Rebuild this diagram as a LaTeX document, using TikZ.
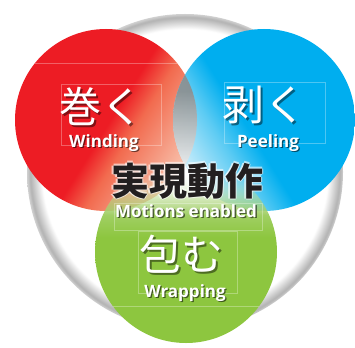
\documentclass[tikz,border=0pt]{standalone}
\usepackage{fontspec}
\setmainfont{Open Sans}
\setsansfont{Open Sans}
\newfontfamily\cjk{Noto Sans CJK JP}
\usetikzlibrary{fadings}
\definecolor{cred}{HTML}{ED1C24}
\definecolor{csalmon}{HTML}{F26B4F}
\definecolor{clight}{HTML}{F8C3AE}
\definecolor{cblue}{HTML}{00AEEF}
\definecolor{cblueM}{HTML}{5CCBF3}
\definecolor{cblueL}{HTML}{DDF3FC}
\definecolor{cgreen}{HTML}{8DC63F}
\definecolor{cgreenM}{HTML}{A9D374}
\definecolor{cgreenL}{HTML}{E3F1D2}
\definecolor{clens}{HTML}{8E8E8E}
\definecolor{cink}{HTML}{231F20}
\pgfdeclareradialshading{ringsh}{\pgfpoint{0bp}{0bp}}{color(0bp)=(white); color(22.6bp)=(white); color(24.5bp)=(black!30); color(25bp)=(black!18); color(50bp)=(black!18)}
\pgfdeclareverticalshading{redsh}{100bp}{color(0bp)=(cred); color(51bp)=(cred); color(58bp)=(csalmon); color(75bp)=(clight); color(100bp)=(clight)}
\pgfdeclareverticalshading{bluesh}{100bp}{color(0bp)=(cblue); color(55bp)=(cblue); color(63bp)=(cblueM); color(77bp)=(cblueL); color(100bp)=(cblueL)}
\pgfdeclareverticalshading{greensh}{100bp}{color(0bp)=(cgreen); color(54bp)=(cgreen); color(63bp)=(cgreenM); color(72bp)=(cgreenL); color(100bp)=(cgreenL)}
\pgfdeclareverticalshading{lenssh}{100bp}{color(0bp)=(white); color(33bp)=(white); color(58bp)=(clens); color(100bp)=(clens)}
\pgfdeclareverticalshading{gfadesh}{100bp}{color(0bp)=(white); color(60bp)=(white); color(71bp)=(black); color(100bp)=(black)}
\pgfdeclarefading{gfade}{\pgfuseshading{gfadesh}}
\tikzset{
  jp/.style={font=\cjk\fontsize{42}{42}\selectfont, text=white, inner sep=0pt},
  jpshadow/.style={jp, text=black, opacity=0.45},
  en/.style={font=\sffamily\bfseries\fontsize{17}{17}\selectfont, text=white, inner sep=0pt, anchor=base},
  enshadow/.style={en, text=black, opacity=0.55},
  big/.style={font=\cjk\bfseries\fontsize{38}{38}\selectfont, text=cink, inner sep=0pt},
  glowtxt/.style={big, text=white, opacity=0.6},
  frame/.style={draw=white, draw opacity=0.3, line width=0.5pt}
}
\begin{document}
\begin{tikzpicture}[x=1pt,y=-1pt]
\useasboundingbox (0,0) rectangle (355,347);
% background disc
\shade[shading=ringsh] (185,172) circle (158);
% red and blue
\shade[shading=redsh, shading angle=-122] (106,120) circle (91);
\shade[shading=bluesh, shading angle=122] (264,120) circle (91);
\begin{scope}
  \clip (106,120) circle (91);
  \shade[shading=lenssh, opacity=0.9] (264,120) circle (91);
\end{scope}
% green
\shade[shading=greensh, path fading=gfade] (186,252) circle (91);
% faint frames
\draw[frame] (35,63) -- (177,63);
\draw[frame] (113,306) -- (259,306);
\draw[frame] (61,84) rectangle (161,145);
\draw[frame] (224,82) rectangle (325,143);
\draw[frame] (114,203) rectangle (262,230);
\draw[frame] (138,231) rectangle (237,293);
% texts
\node[jpshadow] (t1s) at (103,108) {巻く};
\node[jp] (t1) at (101,106) {巻く};
\node[enshadow] (e1s) at (105.2,148.7) {Winding};
\node[en] (e1) at (104,147.5) {Winding};
\node[jpshadow] (t2s) at (266,107) {剥く};
\node[jp] (t2) at (264,105) {剥く};
\node[enshadow] (e2s) at (269.2,148.7) {Peeling};
\node[en] (e2) at (268,147.5) {Peeling};
\foreach \dx/\dy [count=\i] in {1.5/0,-1.5/0,0/1.5,0/-1.5} {
  \node[glowtxt] (g\i) at (187+\dx,181+\dy) {実現動作};
}
\node[big] (t0) at (187,181) {実現動作};
\node[enshadow] (e0s) at (187.4,218.4) {Motions enabled};
\node[en] (e0) at (186,217) {Motions enabled};
\node[jpshadow] (t3s) at (183,256) {包む};
\node[jp] (t3) at (181,254) {包む};
\node[enshadow] (e3s) at (186.2,298.2) {Wrapping};
\node[en] (e3) at (185,297) {Wrapping};
\end{tikzpicture}
\end{document}
